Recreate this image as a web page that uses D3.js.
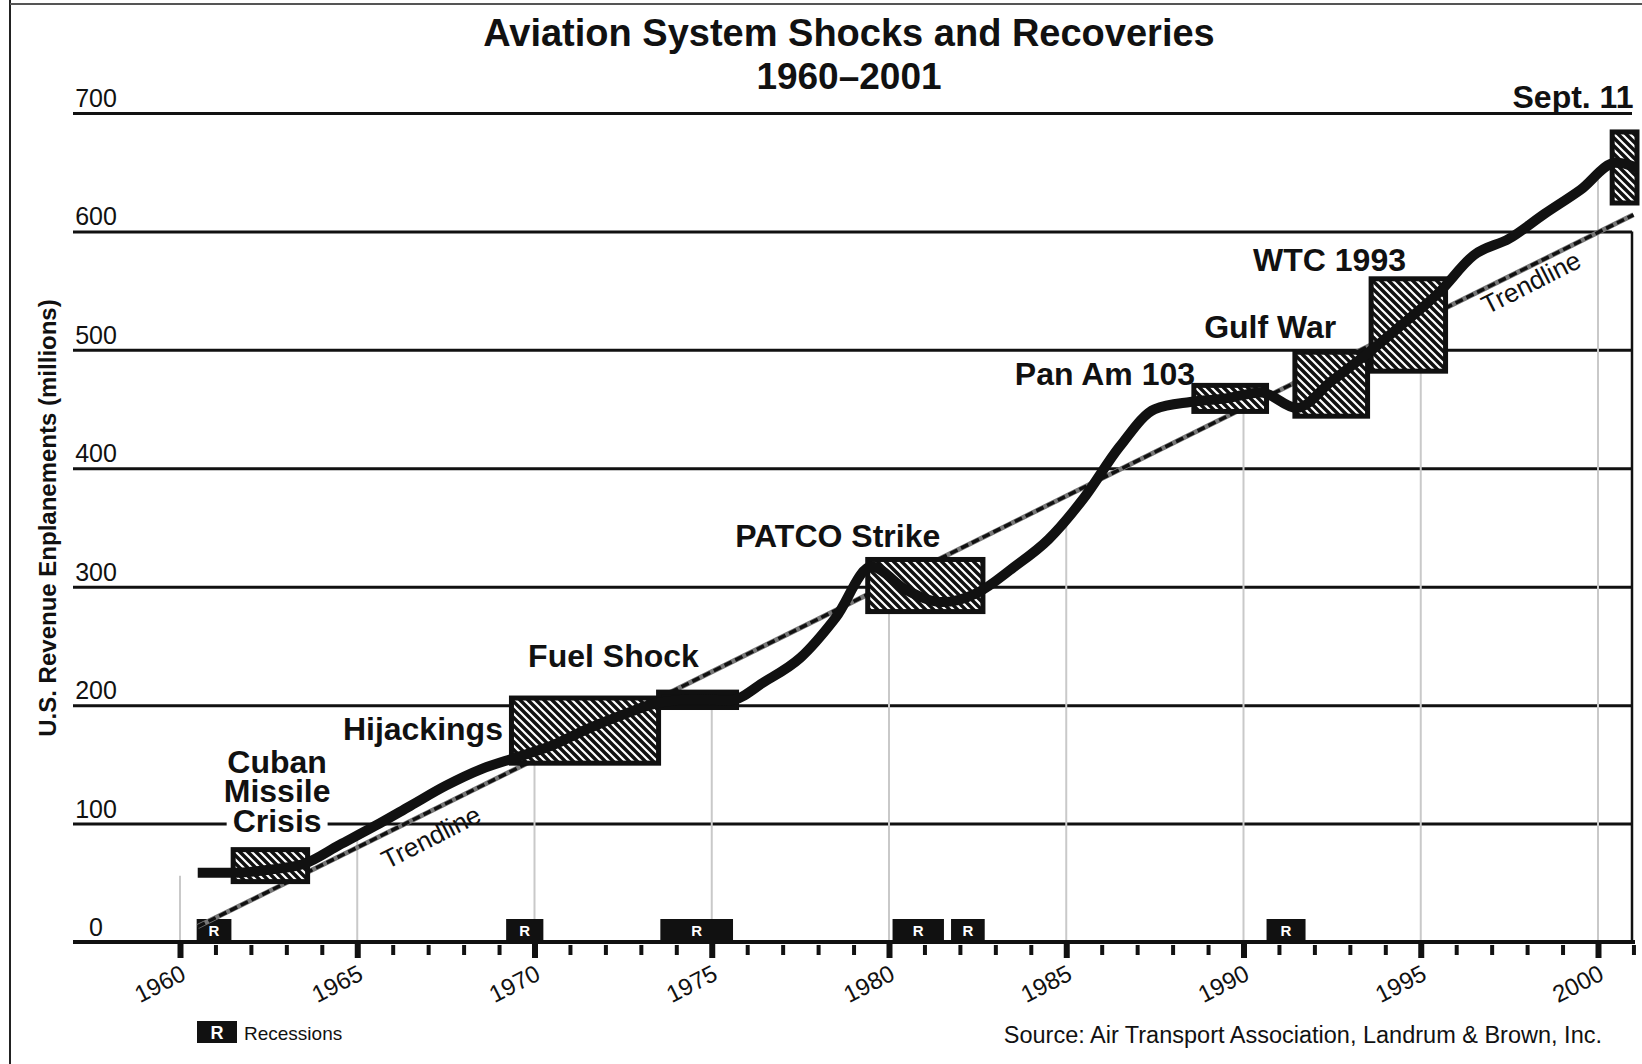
<!DOCTYPE html>
<html lang="en">
<head>
<meta charset="UTF-8">
<title>Aviation System Shocks and Recoveries</title>
<style>
  body { margin: 0; background: #fff; overflow: hidden; }
  svg { display: block; font-family: "Liberation Sans", Arial, Helvetica, sans-serif; }
  .grid line { stroke: #111; stroke-width: 3; }
  .drop { stroke: #c9c9c9; stroke-width: 2; }
  .event { font-weight: bold; font-size: 32px; fill: #111; }
  .ylab { font-size: 25px; fill: #111; }
  .trend-label { font-size: 26px; fill: #111; }
</style>
<script src="https://d3js.org/d3.v7.min.js"></script>
</head>
<body>
<svg id="chart"></svg>
<script>
const width = 1642, height = 1064;

// US revenue enplanements (millions), one value per year, drawn at mid-year
const years = d3.range(1960, 2002);
const enplanements = [58.5, 58.5, 61, 66, 82, 98, 115, 132, 146, 156,
  166, 180, 192, 202, 205, 204, 220, 240, 274, 317,
  297, 287, 295, 316, 340, 375, 418, 450, 456, 459,
  464, 451, 474, 497, 522, 548, 580, 594, 615, 635,
  658, 648];

// trendline end points
const trendYears = [1960.5, 2001];
const trendValues = [13, 614];

// shock boxes (years, value range)
const shockStart = [1961.5, 1969.35, 1973.5, 1979.4, 1988.6, 1991.45, 1993.6, 2000.4];
const shockEnd   = [1963.6, 1973.5, 1975.7, 1982.65, 1990.65, 1993.5, 1995.7, 2001.1];
const shockLow   = [51, 151, 198, 279, 448, 444, 482, 624];
const shockHigh  = [78, 206, 211, 323, 470, 498, 560, 684];
const shockSolid = [false, false, true, false, false, false, false, false];

// recessions
const recessionStart = [1960.47, 1969.2, 1973.55, 1980.1, 1981.75, 1990.65];
const recessionEnd   = [1961.45, 1970.25, 1975.6, 1981.55, 1982.7, 1991.75];

const yTicks = [0, 100, 200, 300, 400, 500, 600, 700];
const majorYears = d3.range(1960, 2001, 5);
const minorYears = d3.range(1960, 2002).filter(d => d % 5 !== 0);

const x = d3.scaleLinear().domain([1960, 2000]).range([180, 1598]);
const y = d3.scaleLinear().domain([0, 700]).range([942, 113]);
const plotLeft = 73, plotRight = 1632;

const svg = d3.select("#chart").attr("width", width).attr("height", height);
const defs = svg.append("defs");

const pat = defs.append("pattern")
  .attr("id", "hatch")
  .attr("patternUnits", "userSpaceOnUse")
  .attr("width", 8).attr("height", 8);
pat.append("rect").attr("width", 8).attr("height", 8).attr("fill", "#111");
pat.append("path")
  .attr("d", "M0,0L8,8M-2,6L2,10M6,-2L10,2")
  .attr("stroke", "#fff").attr("stroke-width", 2.2);

defs.append("clipPath").attr("id", "clip")
  .append("rect").attr("x", 0).attr("y", 0).attr("width", 1638).attr("height", height);

// frame
svg.append("line").attr("x1", 10).attr("x2", 10).attr("y1", 0).attr("y2", height)
  .attr("stroke", "#222").attr("stroke-width", 2);
svg.append("line").attr("x1", 10).attr("x2", width).attr("y1", 4).attr("y2", 4)
  .attr("stroke", "#555").attr("stroke-width", 2);

// horizontal grid
svg.append("g")
  .attr("class", "grid")
  .attr("transform", `translate(${plotLeft},0)`)
  .call(d3.axisRight(y).tickValues(yTicks.slice(1)).tickSize(plotRight - plotLeft).tickFormat(""))
  .call(g => g.select(".domain").remove());

// right border of the plot
svg.append("line")
  .attr("x1", plotRight).attr("x2", plotRight)
  .attr("y1", y(600)).attr("y2", y(0))
  .attr("stroke", "#111").attr("stroke-width", 2.5);

svg.selectAll("text.ylab")
  .data(yTicks)
  .join("text")
  .attr("class", "ylab")
  .attr("x", 96)
  .attr("y", d => y(d) - 6)
  .attr("text-anchor", "middle")
  .text(d => d);

// value on the line at a given year (data sits at mid-year)
function valueAt(t) {
  const p = t - 0.5 - years[0];
  if (p <= 0) return enplanements[0];
  const i = Math.min(Math.floor(p), enplanements.length - 2);
  const f = p - i;
  return enplanements[i] + (enplanements[i + 1] - enplanements[i]) * f;
}

// drop lines at 5-year marks
svg.append("g")
  .selectAll("line")
  .data(majorYears)
  .join("line")
  .attr("class", "drop")
  .attr("x1", d => x(d)).attr("x2", d => x(d))
  .attr("y1", y(0)).attr("y2", d => y(valueAt(d)) + 3);

// recession boxes
const rec = svg.append("g")
  .selectAll("g")
  .data(recessionStart.map((s, i) => ({ s, e: recessionEnd[i] })))
  .join("g");
rec.append("rect")
  .attr("x", d => x(d.s))
  .attr("width", d => x(d.e) - x(d.s))
  .attr("y", y(0) - 23)
  .attr("height", 23)
  .attr("fill", "#111");
rec.append("text")
  .attr("x", d => (x(d.s) + x(d.e)) / 2)
  .attr("y", y(0) - 6)
  .attr("text-anchor", "middle")
  .attr("fill", "#fff")
  .attr("font-weight", "bold")
  .attr("font-size", 15)
  .text("R");

// baseline
svg.append("line")
  .attr("x1", plotLeft).attr("x2", plotRight + 3)
  .attr("y1", y(0)).attr("y2", y(0))
  .attr("stroke", "#111").attr("stroke-width", 4);

// year ticks
svg.append("g")
  .attr("transform", `translate(0,${y(0) + 3})`)
  .call(d3.axisBottom(x).tickValues(minorYears).tickSize(10).tickFormat(""))
  .call(g => g.select(".domain").remove())
  .call(g => g.selectAll("line").attr("stroke", "#111").attr("stroke-width", 4));

svg.append("g")
  .attr("transform", `translate(0,${y(0) + 2})`)
  .call(d3.axisBottom(x).tickValues(majorYears).tickSize(14).tickFormat(d3.format("d")))
  .call(g => g.select(".domain").remove())
  .call(g => g.selectAll("line").attr("stroke", "#111").attr("stroke-width", 6))
  .call(g => g.selectAll("text")
    .attr("x", 0).attr("y", 0).attr("dy", 0)
    .attr("text-anchor", "end")
    .attr("font-family", null)
    .attr("font-size", 24)
    .attr("fill", "#111")
    .attr("transform", "translate(7,35) rotate(-27)"));

// "Trendline" labels under the trend
const trendLabels = [[1967.08, 88.7], [1998.11, 557]];
svg.selectAll("text.trend-label")
  .data(trendLabels)
  .join("text")
  .attr("class", "trend-label")
  .attr("text-anchor", "middle")
  .attr("dy", "0.35em")
  .attr("transform", d => `translate(${x(d[0])},${y(d[1])}) rotate(-27)`)
  .text("Trendline");

// trendline
const trendPts = trendYears.map((t, i) => [x(t), y(trendValues[i])]);
svg.append("path")
  .attr("d", d3.line()(trendPts))
  .attr("stroke", "#777").attr("stroke-width", 5).attr("fill", "none");
svg.append("path")
  .attr("d", d3.line()(trendPts))
  .attr("stroke", "#111").attr("stroke-width", 3.5)
  .attr("stroke-dasharray", "8 4").attr("fill", "none");

// shock boxes
svg.append("g")
  .selectAll("rect")
  .data(shockStart.map((s, i) => ({ s, e: shockEnd[i], lo: shockLow[i], hi: shockHigh[i], solid: shockSolid[i] })))
  .join("rect")
  .attr("x", d => x(d.s))
  .attr("y", d => y(d.hi))
  .attr("width", d => x(d.e) - x(d.s))
  .attr("height", d => y(d.lo) - y(d.hi))
  .attr("fill", d => d.solid ? "#111" : "url(#hatch)")
  .attr("stroke", "#111")
  .attr("stroke-width", 5);

// enplanements line
const line = d3.line()
  .x((d, i) => x(years[i] + 0.5))
  .y(d => y(d))
  .curve(d3.curveMonotoneX);

svg.append("path")
  .attr("clip-path", "url(#clip)")
  .attr("d", line(enplanements))
  .attr("fill", "none")
  .attr("stroke", "#111")
  .attr("stroke-width", 10)
  .attr("stroke-linejoin", "round");

// Cuban Missile Crisis: three stacked lines in one text, white patch cuts the 100 gridline
const crisisX = x(1962.74);
const crisisVals = [142.7, 118.2, 92.9];
const crisis = svg.append("g");
const crisisBg = crisis.append("rect").attr("fill", "#fff");
const crisisText = crisis.append("text")
  .attr("class", "event")
  .attr("text-anchor", "middle");
crisisText.selectAll("tspan")
  .data(["Cuban", "Missile", "Crisis"])
  .join("tspan")
  .attr("x", crisisX)
  .attr("y", (d, i) => y(crisisVals[i]))
  .text(d => d);
const lastW = crisisText.selectAll("tspan").nodes()[2].getComputedTextLength();
crisisBg
  .attr("x", crisisX - lastW / 2 - 6)
  .attr("y", y(crisisVals[2]) - 22)
  .attr("width", lastW + 12)
  .attr("height", 26);

const events = [
  { text: "Hijackings",   yr: 1969.11, v: 170.6, anchor: "end" },
  { text: "Fuel Shock",   yr: 1969.82, v: 232.5, anchor: "start" },
  { text: "PATCO Strike", yr: 1975.66, v: 333.8, anchor: "start" },
  { text: "Pan Am 103",   yr: 1983.55, v: 470.3, anchor: "start" },
  { text: "Gulf War",     yr: 1988.89, v: 510,   anchor: "start" },
  { text: "WTC 1993",     yr: 1990.27, v: 567,   anchor: "start" },
  { text: "Sept. 11",     yr: 2001.0,  v: 704,   anchor: "end" }
];
svg.selectAll("text.ev")
  .data(events)
  .join("text")
  .attr("class", "event ev")
  .attr("x", d => x(d.yr))
  .attr("y", d => y(d.v))
  .attr("text-anchor", d => d.anchor)
  .text(d => d.text);

// titles
svg.append("text")
  .attr("x", 849).attr("y", 46)
  .attr("text-anchor", "middle")
  .attr("font-weight", "bold").attr("font-size", 38).attr("fill", "#111")
  .text("Aviation System Shocks and Recoveries");
svg.append("text")
  .attr("x", 849).attr("y", 89)
  .attr("text-anchor", "middle")
  .attr("font-weight", "bold").attr("font-size", 37).attr("fill", "#111")
  .text("1960–2001");

svg.append("text")
  .attr("transform", "translate(56,518) rotate(-90)")
  .attr("text-anchor", "middle")
  .attr("font-weight", "bold").attr("font-size", 24).attr("fill", "#111")
  .text("U.S. Revenue Enplanements (millions)");

// legend + source
svg.append("rect")
  .attr("x", 197).attr("y", 1021).attr("width", 40).attr("height", 22)
  .attr("fill", "#111");
svg.append("text")
  .attr("x", 217).attr("y", 1039)
  .attr("text-anchor", "middle")
  .attr("fill", "#fff").attr("font-weight", "bold").attr("font-size", 18)
  .text("R");
svg.append("text")
  .attr("x", 244).attr("y", 1040)
  .attr("font-size", 19).attr("fill", "#111")
  .text("Recessions");

svg.append("text")
  .attr("x", 1602).attr("y", 1043)
  .attr("text-anchor", "end")
  .attr("font-size", 23.5).attr("fill", "#111")
  .text("Source: Air Transport Association, Landrum & Brown, Inc.");
</script>
</body>
</html>
